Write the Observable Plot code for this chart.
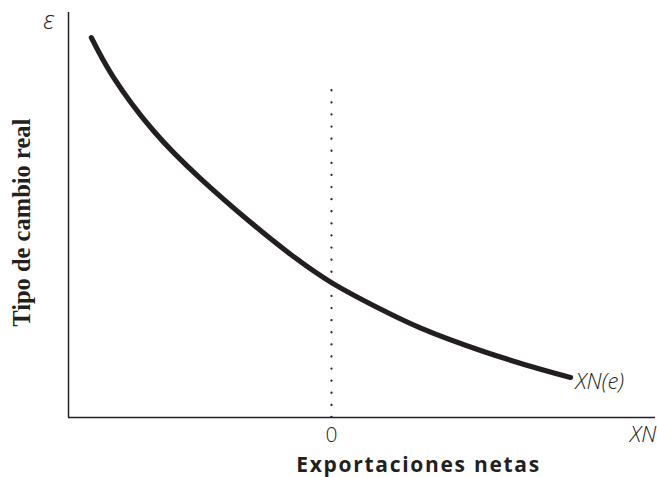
<!DOCTYPE html>
<html>
<head>
<meta charset="utf-8">
<script src="https://cdn.jsdelivr.net/npm/d3@7"></script>
<script src="https://cdn.jsdelivr.net/npm/@observablehq/plot@0.6"></script>
<style>
  html, body { margin: 0; padding: 0; background: #fff; }
  #chart svg { display: block; }
</style>
</head>
<body>
<div id="chart"></div>
<script>
const netExports   = [-9.13, -8.29, -6.77, -4.98, -3.08, -1.56, 0.00, 1.67, 3.42, 5.78, 7.95, 9.09];
const exchangeRate = [ 9.38,  8.40,  7.08,  5.90,  4.82,  4.03, 3.33, 2.74, 2.20, 1.63, 1.19, 0.99];

// Axis domains
const xDomain = [-10, 12.32];
const yDomain = [0, 10];
const zeroLineTop = 8.32;

// Texts
const curveLabel = "XN(e)";
const xAxisSymbol = "XN";
const yAxisSymbol = "ε";
const zeroLabel = "0";
const xTitle = "Exportaciones netas";
const yTitle = "Tipo de cambio real";

const curve = netExports.map((x, i) => ({x, y: exchangeRate[i]}));
const ink = "#231f20";
const sans = "'Open Sans', 'DejaVu Sans', sans-serif";

const chart = Plot.plot({
  width: 657,
  height: 477,
  marginLeft: 68,
  marginRight: 2,
  marginTop: 12,
  marginBottom: 60,
  x: {domain: xDomain, axis: null},
  y: {domain: yDomain, axis: null},
  style: {background: "#fff", color: ink},
  marks: [
    Plot.ruleX([0], {y1: yDomain[0], y2: zeroLineTop, stroke: ink, strokeWidth: 2.2,
      strokeDasharray: "0.1,12", strokeLinecap: "round"}),
    Plot.ruleX([xDomain[0]], {stroke: ink, strokeWidth: 1.5}),
    Plot.ruleY([yDomain[0]], {stroke: ink, strokeWidth: 1.5}),
    Plot.line(curve, {x: "x", y: "y", curve: "natural", stroke: ink, strokeWidth: 5.2}),
    Plot.text([curveLabel], {x: 9.28, y: 0.89, text: d => d, textAnchor: "start",
      fontSize: 22, fontStyle: "italic", fontWeight: 300, fontFamily: sans, fill: ink, clip: false}),
    Plot.text([zeroLabel], {x: 0, y: -0.44, text: d => d,
      fontSize: 21, fontWeight: 300, fontFamily: sans, fill: ink, clip: false}),
    Plot.text([xAxisSymbol], {x: 11.85, y: -0.44, text: d => d,
      fontSize: 22, fontStyle: "italic", fontWeight: 300, fontFamily: sans, fill: ink, clip: false}),
    Plot.text([yAxisSymbol], {x: -10.75, y: 9.78, text: d => d,
      fontSize: 25, fontStyle: "italic", fontWeight: 300, fontFamily: sans, fill: ink, clip: false}),
    Plot.text([xTitle], {x: 3.31, y: -1.18, text: d => d,
      fontSize: 21, fontWeight: "bold", fontFamily: sans, fill: ink, clip: false}),
    Plot.text([yTitle], {x: -11.75, y: 4.81, text: d => d, rotate: -90,
      fontSize: 24.5, fontWeight: "bold", fontFamily: "'Liberation Serif', 'DejaVu Serif', serif", fill: ink, clip: false})
  ]
});
d3.select(chart).selectAll("text").filter(function() { return this.textContent === xTitle; })
  .style("letter-spacing", "1.7px");
document.getElementById("chart").appendChild(chart);
</script>
</body>
</html>
